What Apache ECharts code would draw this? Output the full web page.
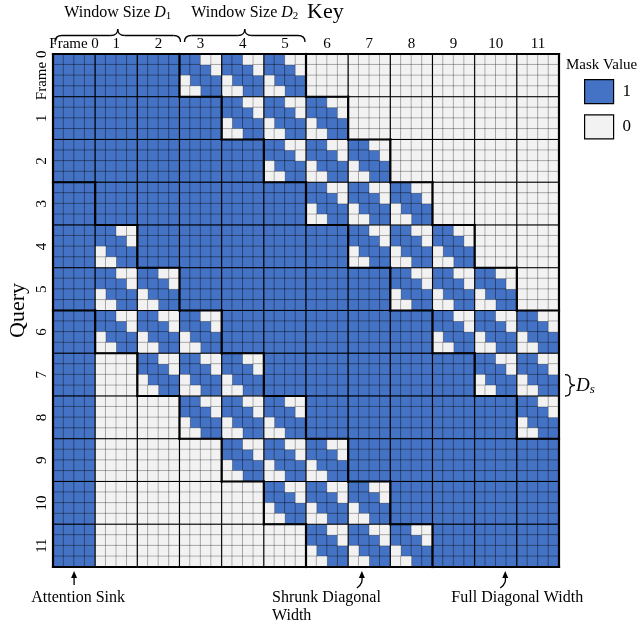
<!DOCTYPE html>
<html>
<head>
<meta charset="utf-8">
<script src="https://cdn.jsdelivr.net/npm/echarts@6/dist/echarts.min.js"></script>
<style>
html, body { margin: 0; padding: 0; background: #fff; }
#chart { width: 644px; height: 630px; }
</style>
</head>
<body>
<div id="chart"></div>
<script>
var myChart = echarts.init(document.getElementById('chart'));

// frame labels (key frames on top, query frames on the left)
var frameLabels = ['Frame 0', '1', '2', '3', '4', '5', '6', '7', '8', '9', '10', '11'];
var subPerFrame = 4;   // each frame is split into 4x4 cells

// block type per query frame (row) and key frame (column)
// F = all 1, D = shrunk diagonal, Z = all 0
var blockRows = [
    'FFFDDDZZZZZZ',
    'FFFFDDDZZZZZ',
    'FFFFFDDDZZZZ',
    'FFFFFFDDDZZZ',
    'FDFFFFFDDDZZ',
    'FDDFFFFFDDDZ',
    'FDDDFFFFFDDD',
    'FZDDDFFFFFDD',
    'FZZDDDFFFFFD',
    'FZZZDDDFFFFF',
    'FZZZZDDDFFFF',
    'FZZZZZDDDFFF'
];
// zones outlined with thick lines (the sink column is ignored here)
var zoneRows = [
    'FFFDDDZZZZZZ',
    'FFFFDDDZZZZZ',
    'FFFFFDDDZZZZ',
    'DFFFFFDDDZZZ',
    'DDFFFFFDDDZZ',
    'DDDFFFFFDDDZ',
    'ZDDDFFFFFDDD',
    'ZZDDDFFFFFDD',
    'ZZZDDDFFFFFD',
    'ZZZZDDDFFFFF',
    'ZZZZZDDDFFFF',
    'ZZZZZZDDDFFF'
];
// cells inside a shrunk diagonal block
var diagBlock = ['1100', '1110', '0111', '0011'];

var blue = '#4472C4';
var light = '#F2F2F2';
var serif = 'Liberation Serif';

// build cells
var nFrames = frameLabels.length;
var n = nFrames * subPerFrame;
var cellCats = [];
for (var k = 0; k < n; k++) cellCats.push(String(k));
var ones = [], zeros = [];
for (var r = 0; r < n; r++) {
    for (var c = 0; c < n; c++) {
        var t = blockRows[Math.floor(r / subPerFrame)][Math.floor(c / subPerFrame)];
        var v = t === 'F' ? 1 : (t === 'Z' ? 0 : +diagBlock[r % subPerFrame][c % subPerFrame]);
        (v ? ones : zeros).push([c, r, v]);
    }
}

// frame grid lines and thick outline segments, in cell units
var frameLines = [];
for (var f = 1; f < nFrames; f++) {
    frameLines.push([f * subPerFrame, 0, f * subPerFrame, n]);
    frameLines.push([0, f * subPerFrame, n, f * subPerFrame]);
}
var zoneLines = [[0, 0, n, 0], [n, 0, n, n], [n, n, 0, n], [0, n, 0, 0]];
for (var i = 0; i < nFrames; i++) {
    for (var j = 0; j < nFrames; j++) {
        if (j < nFrames - 1 && zoneRows[i][j] !== zoneRows[i][j + 1]) {
            zoneLines.push([(j + 1) * subPerFrame, i * subPerFrame, (j + 1) * subPerFrame, (i + 1) * subPerFrame]);
        }
        if (i < nFrames - 1 && zoneRows[i][j] !== zoneRows[i + 1][j]) {
            zoneLines.push([j * subPerFrame, (i + 1) * subPerFrame, (j + 1) * subPerFrame, (i + 1) * subPerFrame]);
        }
    }
}

function segRenderer(width) {
    return function (params, api) {
        var p1 = api.coord([api.value(0), api.value(1)]);
        var p2 = api.coord([api.value(2), api.value(3)]);
        return {
            type: 'line',
            shape: { x1: p1[0], y1: p1[1], x2: p2[0], y2: p2[1] },
            style: { stroke: '#000', lineWidth: width, lineCap: 'square' }
        };
    };
}

var option = {
    animation: false,
    title: {
        text: 'Mask Value',
        left: 561,
        top: 53,
        textStyle: { fontFamily: serif, fontSize: 15, fontWeight: 'normal', color: '#000' }
    },
    legend: {
        data: ['1', '0'],
        orient: 'vertical',
        left: 579,
        top: 74,
        itemWidth: 29,
        itemHeight: 24,
        itemGap: 10,
        icon: 'rect',
        selectedMode: false,
        itemStyle: { borderColor: '#000', borderWidth: 1.2 },
        textStyle: { fontFamily: serif, fontSize: 17, color: '#000', padding: [0, 0, 0, 4] }
    },
    grid: { left: 53, top: 54, width: 506, height: 513, containLabel: false, outerBoundsMode: 'none' },
    xAxis: [
        { type: 'category', data: cellCats, show: false },
        {
            type: 'category', data: frameLabels, position: 'top',
            axisLine: { show: false }, axisTick: { show: false }, splitLine: { show: false },
            axisLabel: { fontFamily: serif, fontSize: 15, color: '#000', margin: 2, interval: 0 }
        },
        { type: 'value', min: 0, max: n, show: false }
    ],
    yAxis: [
        { type: 'category', data: cellCats, inverse: true, show: false },
        {
            type: 'category', data: frameLabels, inverse: true, position: 'left',
            axisLine: { show: false }, axisTick: { show: false }, splitLine: { show: false },
            axisLabel: { fontFamily: serif, fontSize: 15, color: '#000', margin: 3, rotate: 90, interval: 0 },
            name: 'Query', nameLocation: 'middle', nameGap: 24, nameRotate: 90, nameMoveOverlap: false,
            nameTextStyle: { fontFamily: serif, fontSize: 22, color: '#000' }
        },
        { type: 'value', min: 0, max: n, inverse: true, show: false }
    ],
    series: [
        {
            name: '1', type: 'heatmap', xAxisIndex: 0, yAxisIndex: 0, data: ones,
            itemStyle: { color: blue, borderColor: 'rgba(0,0,0,0.6)', borderWidth: 0.6 }
        },
        {
            name: '0', type: 'heatmap', xAxisIndex: 0, yAxisIndex: 0, data: zeros,
            itemStyle: { color: light, borderColor: 'rgba(0,0,0,0.45)', borderWidth: 0.6 }
        },
        {
            type: 'custom', xAxisIndex: 2, yAxisIndex: 2, data: frameLines, z: 5,
            encode: { x: [0, 2], y: [1, 3] }, renderItem: segRenderer(1.1), silent: true
        },
        {
            type: 'custom', xAxisIndex: 2, yAxisIndex: 2, data: zoneLines, z: 6,
            encode: { x: [0, 2], y: [1, 3] }, renderItem: segRenderer(2.2), silent: true
        }
    ]
};
myChart.setOption(option);

// annotations placed with the chart's own axes
function px(x) { return myChart.convertToPixel({ xAxisIndex: 2 }, x); }
function py(y) { return myChart.convertToPixel({ yAxisIndex: 2 }, y); }

var lineStyle = { stroke: '#000', lineWidth: 1.3, fill: null };
function qc(x1, y1, cx, cy, x2, y2) {
    return { type: 'bezierCurve', shape: { x1: x1, y1: y1, cpx1: cx, cpy1: cy, x2: x2, y2: y2 }, style: lineStyle };
}
function cc(x1, y1, c1x, c1y, c2x, c2y, x2, y2) {
    return { type: 'bezierCurve', shape: { x1: x1, y1: y1, cpx1: c1x, cpy1: c1y, cpx2: c2x, cpy2: c2y, x2: x2, y2: y2 }, style: lineStyle };
}
function seg(x1, y1, x2, y2) {
    return { type: 'line', shape: { x1: x1, y1: y1, x2: x2, y2: y2 }, style: lineStyle };
}
function braceUp(x0, x1, yEnd, h) {
    var ym = yEnd - h / 2, yt = yEnd - h, xm = (x0 + x1) / 2, rr = 7;
    return [
        qc(x0, yEnd, x0, ym, x0 + rr, ym),
        seg(x0 + rr, ym, xm - rr, ym),
        qc(xm - rr, ym, xm, ym, xm, yt),
        qc(xm, yt, xm, ym, xm + rr, ym),
        seg(xm + rr, ym, x1 - rr, ym),
        qc(x1 - rr, ym, x1, ym, x1, yEnd)
    ];
}
function braceRight(xEnd, y0, y1, w) {
    var xm = xEnd + w / 2, xt = xEnd + w, yc = (y0 + y1) / 2, rr = 4;
    return [
        qc(xEnd, y0, xm, y0, xm, y0 + rr),
        seg(xm, y0 + rr, xm, yc - rr),
        qc(xm, yc - rr, xm, yc, xt, yc),
        qc(xt, yc, xm, yc, xm, yc + rr),
        seg(xm, yc + rr, xm, y1 - rr),
        qc(xm, y1 - rr, xm, y1, xEnd, y1)
    ];
}
function arrowHead(x, y) {
    return { type: 'polygon', shape: { points: [[x, y], [x - 3, y + 7], [x + 3, y + 7]] }, style: { fill: '#000' } };
}
var textBase = { fontFamily: serif, fill: '#000' };
var titleRich = {
    n: { fontFamily: serif, fontSize: 16, lineHeight: 18 },
    d: { fontFamily: serif, fontSize: 16, fontStyle: 'italic', lineHeight: 18 },
    s: { fontFamily: serif, fontSize: 11, lineHeight: 11, verticalAlign: 'bottom' }
};

var b1x0 = px(0) + 2, b1x1 = px(12) + 1;
var b2x0 = px(12) + 5, b2x1 = px(24) - 1;
var gBottom = py(n), gRight = px(n);
var shrunkX = px(29.3), fullX = px(42.9), sinkX = px(2);

var elements = [];
elements = elements.concat(braceUp(b1x0, b1x1, 42, 13), braceUp(b2x0, b2x1, 42, 13));
elements.push(
    {
        type: 'text', x: (b1x0 + b1x1) / 2, y: 13,
        style: { text: '{n|Window Size }{d|D}{s|1}', rich: titleRich, align: 'center', verticalAlign: 'middle', fill: '#000' }
    },
    {
        type: 'text', x: (b2x0 + b2x1) / 2, y: 13,
        style: { text: '{n|Window Size }{d|D}{s|2}', rich: titleRich, align: 'center', verticalAlign: 'middle', fill: '#000' }
    },
    {
        type: 'text', x: px(24) + 1, y: 12,
        style: Object.assign({ text: 'Key', fontSize: 22, align: 'left', verticalAlign: 'middle' }, textBase)
    },
    // attention sink arrow
    seg(sinkX, gBottom + 18, sinkX, gBottom + 8),
    arrowHead(sinkX, gBottom + 4),
    {
        type: 'text', x: sinkX + 4, y: gBottom + 31,
        style: Object.assign({ text: 'Attention Sink', fontSize: 16, align: 'center', verticalAlign: 'middle' }, textBase)
    },
    // shrunk diagonal arrow
    cc(shrunkX - 5, gBottom + 21, shrunkX + 2, gBottom + 16, shrunkX, gBottom + 12, shrunkX, gBottom + 8),
    arrowHead(shrunkX, gBottom + 4),
    {
        type: 'text', x: 272, y: gBottom + 31,
        style: Object.assign({ text: 'Shrunk Diagonal', fontSize: 16, align: 'left', verticalAlign: 'middle' }, textBase)
    },
    {
        type: 'text', x: 272, y: gBottom + 49,
        style: Object.assign({ text: 'Width', fontSize: 16, align: 'left', verticalAlign: 'middle' }, textBase)
    },
    // full diagonal arrow
    cc(fullX - 5, gBottom + 21, fullX + 2, gBottom + 16, fullX, gBottom + 12, fullX, gBottom + 8),
    arrowHead(fullX, gBottom + 4),
    {
        type: 'text', x: fullX + 12, y: gBottom + 31,
        style: Object.assign({ text: 'Full Diagonal Width', fontSize: 16, align: 'center', verticalAlign: 'middle' }, textBase)
    },
    {
        type: 'text', x: gRight + 17, y: (py(30) + py(32)) / 2 + 1,
        style: {
            text: '{d|D}{s|s}', align: 'left', verticalAlign: 'middle', fill: '#000',
            rich: {
                d: { fontFamily: serif, fontSize: 19, fontStyle: 'italic', lineHeight: 20 },
                s: { fontFamily: serif, fontSize: 13, fontStyle: 'italic', lineHeight: 12, verticalAlign: 'bottom' }
            }
        }
    }
);
elements = elements.concat(braceRight(gRight + 6, py(30), py(32), 10));

myChart.setOption({ graphic: elements });
</script>
</body>
</html>
